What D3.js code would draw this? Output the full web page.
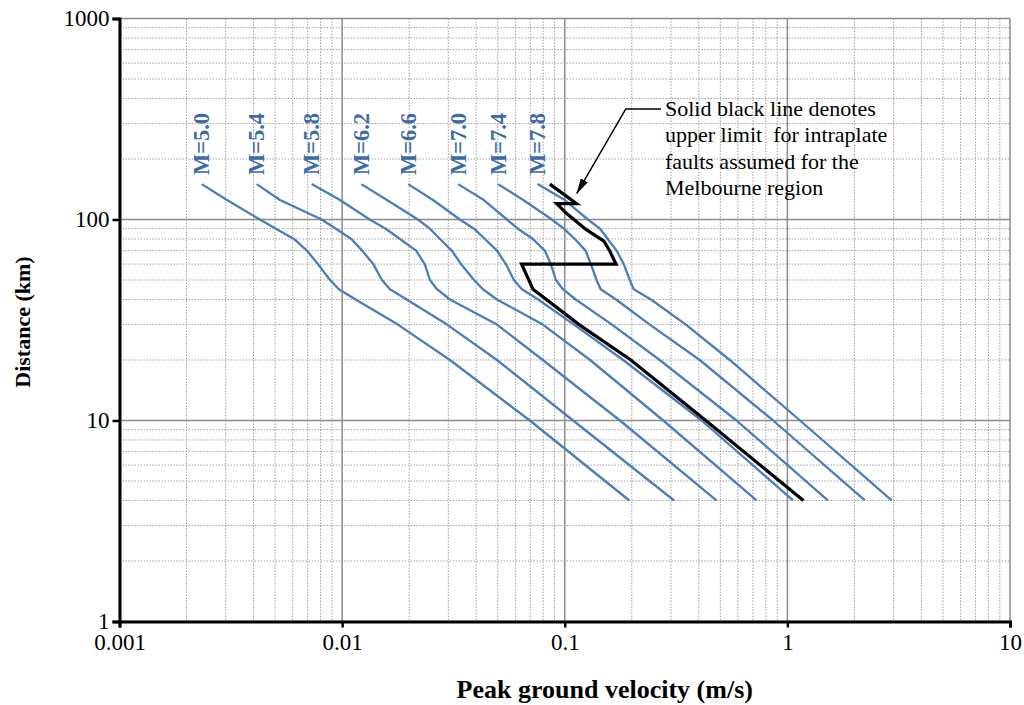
<!DOCTYPE html>
<html>
<head>
<meta charset="utf-8">
<script src="https://cdn.jsdelivr.net/npm/d3@7"></script>
<style>
body { margin: 0; background: #fff; }
svg { display: block; }
text { font-family: "Liberation Serif", "Times New Roman", serif; }
</style>
</head>
<body>
<div id="chart"></div>
<script>
// distances (km) at which each curve was read
var distances = [150, 125, 100, 90, 80, 70, 60, 50, 45, 40, 30, 20, 10, 4];
var magnitudes = ["M=5.0", "M=5.4", "M=5.8", "M=6.2", "M=6.6", "M=7.0", "M=7.4", "M=7.8"];

// peak ground velocity (m/s) per magnitude
var pgvM50 = [0.00234, 0.00304, 0.00427, 0.00504, 0.00608, 0.00695, 0.00779, 0.00882, 0.00967, 0.0115, 0.0178, 0.0305, 0.0697, 0.195];
var pgvM54 = [0.00413, 0.00526, 0.00809, 0.00938, 0.0110, 0.0123, 0.0138, 0.0151, 0.0164, 0.0195, 0.0296, 0.0496, 0.109, 0.310];
var pgvM58 = [0.00730, 0.00978, 0.0133, 0.0157, 0.0182, 0.0215, 0.0235, 0.0248, 0.0267, 0.0305, 0.0496, 0.0797, 0.177, 0.480];
var pgvM62 = [0.0122, 0.0159, 0.0219, 0.0248, 0.0275, 0.0311, 0.0342, 0.0391, 0.0429, 0.0496, 0.0797, 0.130, 0.277, 0.727];
var pgvM66 = [0.0198, 0.0256, 0.0338, 0.0391, 0.0438, 0.0496, 0.0544, 0.0591, 0.0642, 0.0760, 0.110, 0.183, 0.412, 1.06];
var pgvM70 = [0.0332, 0.0433, 0.0550, 0.0616, 0.0719, 0.0814, 0.0866, 0.0912, 0.0981, 0.112, 0.163, 0.267, 0.591, 1.52];
var pgvM74 = [0.0502, 0.0651, 0.0875, 0.0991, 0.111, 0.124, 0.131, 0.139, 0.145, 0.170, 0.241, 0.404, 0.863, 2.23];
var pgvM78 = [0.0755, 0.100, 0.127, 0.144, 0.156, 0.171, 0.184, 0.196, 0.204, 0.244, 0.350, 0.551, 1.14, 2.94];

// upper limit for intraplate faults (black line)
var limitPgv = [0.0857, 0.113, 0.092, 0.102, 0.125, 0.150, 0.159, 0.170, 0.064, 0.072, 0.116, 0.198, 0.430, 1.18];
var limitDist = [150, 120, 120, 107, 89, 78, 70, 60, 60, 45, 30, 20, 10, 4];

var xTicks = [0.001, 0.01, 0.1, 1, 10];
var yTicks = [1, 10, 100, 1000];
var noteLines = ["Solid black line denotes", "upper limit  for intraplate", "faults assumed for the", "Melbourne region"];

var series = [pgvM50, pgvM54, pgvM58, pgvM62, pgvM66, pgvM70, pgvM74, pgvM78];

var W = 1024, H = 705;
var margin = {left: 119.5, right: 1010, top: 18.5, bottom: 621.5};

var svg = d3.select("#chart").append("svg")
    .attr("width", W)
    .attr("height", H);

var x = d3.scaleLog().domain([0.001, 10]).range([margin.left, margin.right]);
var y = d3.scaleLog().domain([1, 1000]).range([margin.bottom, margin.top]);

// minor grid
var minorX = [], minorY = [];
[0.001, 0.01, 0.1, 1].forEach(function(d) {
  for (var k = 2; k <= 9; k++) minorX.push(d * k);
});
[1, 10, 100].forEach(function(d) {
  for (var k = 2; k <= 9; k++) minorY.push(d * k);
});

var grid = svg.append("g").attr("class", "grid");
grid.selectAll(".mx").data(minorX).enter().append("line")
    .attr("x1", function(d) { return x(d); }).attr("x2", function(d) { return x(d); })
    .attr("y1", margin.top).attr("y2", margin.bottom)
    .attr("stroke", "#a0a0a0").attr("stroke-width", 1).attr("stroke-dasharray", "1.5,1.5");
grid.selectAll(".my").data(minorY).enter().append("line")
    .attr("y1", function(d) { return y(d); }).attr("y2", function(d) { return y(d); })
    .attr("x1", margin.left).attr("x2", margin.right)
    .attr("stroke", "#a0a0a0").attr("stroke-width", 1).attr("stroke-dasharray", "1.5,1.5");

// major grid
grid.selectAll(".Mx").data(xTicks).enter().append("line")
    .attr("x1", function(d) { return x(d); }).attr("x2", function(d) { return x(d); })
    .attr("y1", margin.top).attr("y2", margin.bottom)
    .attr("stroke", "#8c8c8c").attr("stroke-width", 1.5);
grid.selectAll(".My").data(yTicks).enter().append("line")
    .attr("y1", function(d) { return y(d); }).attr("y2", function(d) { return y(d); })
    .attr("x1", margin.left).attr("x2", margin.right)
    .attr("stroke", "#8c8c8c").attr("stroke-width", 1.5);

// axes
var xAxis = d3.axisBottom(x).tickValues(xTicks).tickSize(6).tickFormat(function(d) { return String(d); });
var yAxis = d3.axisLeft(y).tickValues(yTicks).tickSize(7).tickFormat(function(d) { return String(d); });

var gx = svg.append("g")
    .attr("transform", "translate(0," + margin.bottom + ")")
    .call(xAxis);
var gy = svg.append("g")
    .attr("transform", "translate(" + margin.left + ",0)")
    .call(yAxis);

[gx, gy].forEach(function(g) {
  g.select(".domain").attr("stroke", "#000").attr("stroke-width", 3);
  g.selectAll(".tick line").attr("stroke", "#000").attr("stroke-width", 2.5);
  g.selectAll(".tick text")
      .attr("fill", "#000")
      .style("font-family", "'Liberation Serif', 'Times New Roman', serif")
      .style("font-size", "23px");
});
gx.selectAll(".tick text").attr("dy", "0.71em").attr("y", 12);
gy.selectAll(".tick text").attr("x", -10);

// curves
var line = d3.line()
    .x(function(d) { return x(d[0]); })
    .y(function(d) { return y(d[1]); });

series.forEach(function(vals, i) {
  var pts = vals.map(function(v, j) { return [v, distances[j]]; });
  svg.append("path")
      .attr("d", line(pts))
      .attr("fill", "none")
      .attr("stroke", "#4a7ebb")
      .attr("stroke-width", 2.3)
      .attr("stroke-linejoin", "round");

  svg.append("text")
      .attr("transform", "translate(" + (x(vals[0]) + 7.5) + "," + (y(distances[0]) - 9) + ") rotate(-90)")
      .attr("fill", "#3f6ba5")
      .style("font-size", "22.5px")
      .style("font-weight", "bold")
      .text(magnitudes[i]);
});

// black limit line
var limitPts = limitPgv.map(function(v, j) { return [v, limitDist[j]]; });
svg.append("path")
    .attr("d", line(limitPts))
    .attr("fill", "none")
    .attr("stroke", "#000")
    .attr("stroke-width", 3.2)
    .attr("stroke-linejoin", "miter");

// annotation with leader arrow
svg.append("defs").append("marker")
    .attr("id", "arrow")
    .attr("viewBox", "0 0 16 8")
    .attr("refX", 15).attr("refY", 4)
    .attr("markerWidth", 16).attr("markerHeight", 8)
    .attr("markerUnits", "userSpaceOnUse")
    .attr("orient", "auto")
  .append("path")
    .attr("d", "M0,0 L16,4 L0,8 Z")
    .attr("fill", "#000");

var notePt = [0.282, 355];
var elbow = [0.188, 355];
var tip = [0.1133, 135];
svg.append("path")
    .attr("d", "M" + (x(notePt[0]) - 4) + "," + y(notePt[1]) +
               "L" + x(elbow[0]) + "," + y(elbow[1]) +
               "L" + x(tip[0]) + "," + y(tip[1]))
    .attr("fill", "none")
    .attr("stroke", "#000")
    .attr("stroke-width", 1.5)
    .attr("marker-end", "url(#arrow)");

var note = svg.append("g").attr("transform", "translate(" + x(notePt[0]) + "," + (y(notePt[1]) + 7) + ")");
note.selectAll("text").data(noteLines).enter().append("text")
    .attr("x", 0)
    .attr("y", function(d, i) { return i * 26.5; })
    .style("font-size", "22px")
    .attr("fill", "#000")
    .attr("xml:space", "preserve")
    .text(function(d) { return d; });

// axis titles
svg.append("text")
    .attr("x", (margin.left + margin.right) / 2 + 40)
    .attr("y", 698)
    .attr("text-anchor", "middle")
    .style("font-size", "26px")
    .style("font-weight", "bold")
    .text("Peak ground velocity (m/s)");

svg.append("text")
    .attr("transform", "translate(30," + ((margin.top + margin.bottom) / 2 + 2) + ") rotate(-90)")
    .attr("text-anchor", "middle")
    .style("font-size", "22px")
    .style("font-weight", "bold")
    .text("Distance (km)");
</script>
</body>
</html>
